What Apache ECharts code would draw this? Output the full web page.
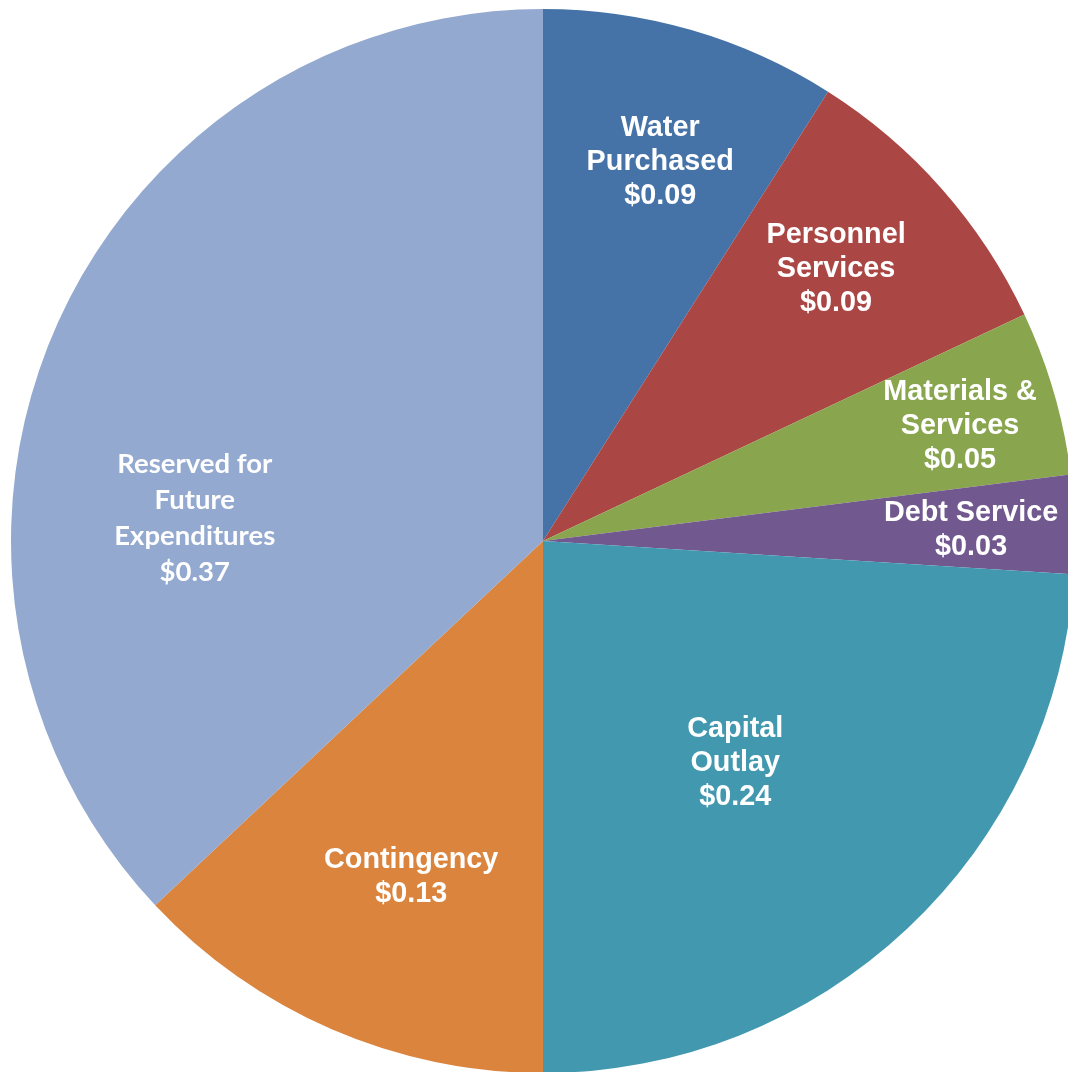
<!DOCTYPE html>
<html>
<head>
<meta charset="utf-8">
<script src="https://cdn.jsdelivr.net/npm/echarts@6/dist/echarts.min.js"></script>
<style>
html,body{margin:0;padding:0;background:#fff;}
#chart{width:1068px;height:1072px;}
</style>
</head>
<body>
<div id="chart"></div>
<script>
// Data
const categories = ['Water\nPurchased', 'Personnel\nServices', 'Materials &\nServices', 'Debt Service', 'Capital\nOutlay', 'Contingency', 'Reserved for\nFuture\nExpenditures'];
const values = [0.09, 0.09, 0.05, 0.03, 0.24, 0.13, 0.37];
const colors = ['#4572A7', '#AA4643', '#89A54E', '#71588F', '#4198AF', '#DB843D', '#93A9CF'];

// Layout (label placement: fraction of radius, angle clockwise from top in degrees)
const CX = 543, CY = 541, R = 532;
const labelPolar = [[0.745, 17.2], [0.752, 47.1], [0.813, 74.6], [0.805, 88.5], [0.552, 139.1], [0.679, 201.4], [0.656, 273.8]];

const chart = echarts.init(document.getElementById('chart'));
const data = categories.map((c, i) => {
  const item = { name: c, value: values[i], itemStyle: { color: colors[i] } };
  if (i === 6) {
    item.label = { fontFamily: 'Lato', fontSize: 27.5, lineHeight: 36, fontWeight: 'bold' };
  }
  return item;
});

chart.setOption({
  animation: false,
  backgroundColor: '#ffffff',
  series: [{
    type: 'pie',
    center: [CX, CY],
    radius: [0, R],
    startAngle: 90,
    clockwise: true,
    avoidLabelOverlap: false,
    data: data,
    itemStyle: { borderWidth: 0 },
    label: {
      show: true,
      position: 'inside',
      color: '#ffffff',
      fontFamily: 'Liberation Sans, Arial, sans-serif',
      fontWeight: 'bold',
      fontSize: 28.8,
      lineHeight: 34,
      align: 'center',
      formatter: p => p.name + '\n$' + p.value.toFixed(2)
    },
    labelLine: { show: false },
    labelLayout: function (params) {
      const lp = labelPolar[params.dataIndex];
      const a = lp[1] * Math.PI / 180;
      return {
        x: CX + lp[0] * R * Math.sin(a),
        y: CY - lp[0] * R * Math.cos(a),
        align: 'center',
        verticalAlign: 'middle'
      };
    }
  }]
});
</script>
</body>
</html>
